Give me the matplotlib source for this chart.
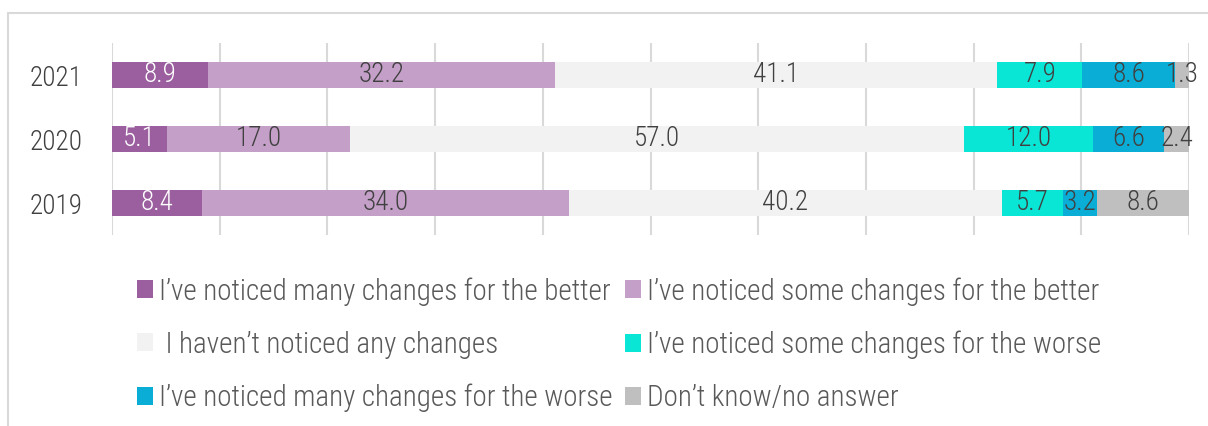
import matplotlib
matplotlib.use("Agg")
import matplotlib.pyplot as plt
from matplotlib.patches import Rectangle, Patch
import numpy as np

plt.rcParams['font.family'] = ['Roboto Condensed', 'Liberation Sans Narrow', 'DejaVu Sans']

years = ["2019", "2020", "2021"]
categories = [
    "I\u2019ve noticed many changes for the better",
    "I\u2019ve noticed some changes for the better",
    " I haven\u2019t noticed any changes",
    "I\u2019ve noticed some changes for the worse",
    "I\u2019ve noticed many changes for the worse",
    "Don\u2019t know/no answer",
]
many_better = [8.4, 5.1, 8.9]
some_better = [34.0, 17.0, 32.2]
no_change = [40.2, 57.0, 41.1]
some_worse = [5.7, 12.0, 7.9]
many_worse = [3.2, 6.6, 8.6]
dont_know = [8.6, 2.4, 1.3]

series = [many_better, some_better, no_change, some_worse, many_worse, dont_know]
colors = ["#9B5FA0", "#C49FC8", "#F2F2F2", "#0AE6D6", "#0AADD5", "#BFBFBF"]
label_colors = ["white", "#404040", "#404040", "#404040", "#404040", "#404040"]

fig = plt.figure(figsize=(12.08, 4.26), dpi=100)
ax = fig.add_axes([112 / 1208, 1 - 235 / 426, 1077 / 1208, 192 / 426])

# outer frame
fig.patches.append(Rectangle((8 / 1208, -0.1), 1.2, 1 - 13 / 426 + 0.1,
                             transform=fig.transFigure, fill=False,
                             edgecolor="#D9D9D9", linewidth=1.5))

y = np.arange(len(years))
left = np.zeros(len(years))
for vals, col, lc in zip(series, colors, label_colors):
    vals = np.array(vals)
    bars = ax.barh(y, vals, left=left, height=0.41, color=col, zorder=3)
    ax.bar_label(bars, labels=[f"{v:.1f}" for v in vals], label_type="center",
                 color=lc, fontsize=19.5, fontweight="light")
    left += vals

ax.set_xlim(0, 100)
ax.set_ylim(-0.5, 2.5)
ax.set_xticks(np.arange(0, 101, 10))
ax.xaxis.grid(True, color="#D9D9D9", linewidth=1.5, zorder=0)
ax.set_axisbelow(True)
ax.tick_params(axis="x", length=0, labelbottom=False)
ax.tick_params(axis="y", length=0, pad=21, labelsize=19.5, labelcolor="#404040")
ax.set_yticks(y)
ax.set_yticklabels(years, fontweight="light")
for s in ax.spines.values():
    s.set_visible(False)

# legend is filled column-first, so reorder to read row by row
order = [0, 2, 4, 1, 3, 5]
handles = [Patch(facecolor=colors[i], edgecolor="none") for i in order]
labels = [categories[i] for i in order]
fig.legend(handles, labels, ncol=2, loc="upper left",
           bbox_to_anchor=(137 / 1208, 1 - 277 / 426), frameon=False,
           labelcolor="#595959", handlelength=0.55,
           handleheight=0.55, handletextpad=0.22, columnspacing=0.4,
           labelspacing=0.86, borderaxespad=0, borderpad=0,
           prop={"weight": "light", "size": 21})

fig.savefig("out.png", dpi=100)
